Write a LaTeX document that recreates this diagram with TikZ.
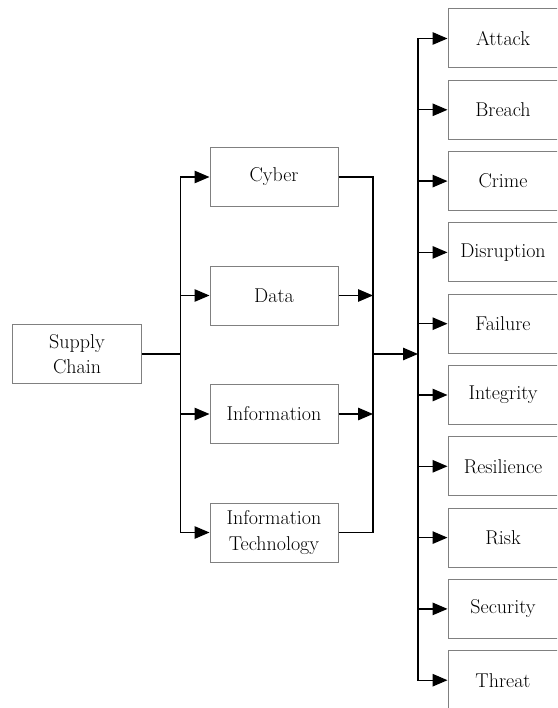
\documentclass[tikz,border=0pt]{standalone}
\usetikzlibrary{arrows.meta}
\begin{document}
\begin{tikzpicture}[x=1pt,y=-1pt,
  box/.style={draw=black!50,line width=1pt,rectangle,inner sep=0pt,align=center,
    font=\fontsize{20}{25.5}\selectfont,text=black},
  midbox/.style={box,minimum width=128pt,minimum height=59pt},
  rbox/.style={box,minimum width=110pt,minimum height=59pt},
  conn/.style={line width=1.3pt,draw=black},
  arr/.style={conn,-{Triangle[length=15pt,width=12.5pt]}}]
\useasboundingbox (0,0) rectangle (557,708);
\clip (0,0) rectangle (557,708);
\fill[white] (0,0) rectangle (557,708);
\node[box,minimum width=129.5pt,minimum height=59.5pt] (sc) at (77,354) {Supply\\Chain};
\node[midbox] (cyber) at (274,177) {Cyber};
\node[midbox] (data) at (274,295.5) {Data};
\node[midbox] (info) at (274,414) {Information};
\node[midbox] (it) at (274,532.5) {Information\\Technology};
\node[rbox] (attack) at (503,38.5) {Attack};
\node[rbox] (breach) at (503,109.8) {Breach};
\node[rbox] (crime) at (503,181.1) {Crime};
\node[rbox] (disruption) at (503,252.4) {Disruption};
\node[rbox] (failure) at (503,323.7) {Failure};
\node[rbox] (integrity) at (503,395) {Integrity};
\node[rbox] (resilience) at (503,466.3) {Resilience};
\node[rbox] (risk) at (503,537.6) {Risk};
\node[rbox] (security) at (503,608.9) {Security};
\node[rbox] (threat) at (503,680.2) {Threat};
\coordinate (j1) at (180.5,354);
\coordinate (j2) at (373,354);
\coordinate (j3) at (418,354);
\draw[conn] (sc.east) -- (j1);
\draw[arr] (j1) |- (cyber.west);
\draw[arr] (j1) |- (it.west);
\draw[arr] (data.west -| j1) -- (data.west);
\draw[arr] (info.west -| j1) -- (info.west);
\draw[conn] (cyber.east) -| (j2);
\draw[conn] (it.east) -| (j2);
\draw[arr] (data.east) -- (data.east -| j2);
\draw[arr] (info.east) -- (info.east -| j2);
\draw[arr] (j2) -- (j3);
\foreach \n in {attack,breach,crime,disruption,failure,integrity,resilience,risk,security,threat}{
  \draw[arr] (j3) |- (\n.west);
}
\end{tikzpicture}
\end{document}
